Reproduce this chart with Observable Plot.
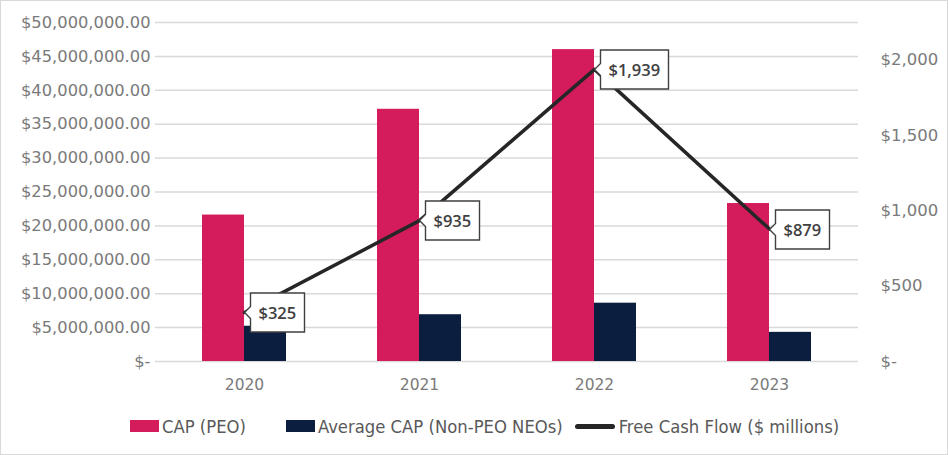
<!DOCTYPE html>
<html><head><meta charset="utf-8">
<script src="https://cdn.jsdelivr.net/npm/d3@7"></script>
<script src="https://cdn.jsdelivr.net/npm/@observablehq/plot@0.6"></script>
<style>
body{margin:0;background:#fff}
#frame{width:948px;height:455px;box-sizing:border-box;border:1px solid #d9d9d9;position:relative;overflow:hidden;background:#fff}
#chart{position:absolute;left:0;top:0}
#legend{position:absolute;top:414px;left:129px;height:22px;display:flex;align-items:center;font-family:"DejaVu Sans Condensed","DejaVu Sans",sans-serif;font-size:18.3px;color:#595959;white-space:nowrap}
.item{display:flex;align-items:center}
.sw{width:29px;height:12px;margin-right:3px}
.ln{width:40px;height:5px;border-radius:2.5px;background:#262626;margin-right:4px}
</style></head>
<body>
<div id="frame"><div id="chart"></div><div id="legend"></div></div>
<script>
const years = ["2020", "2021", "2022", "2023"];
const capPEO = [21.6e6, 37.2e6, 46.0e6, 23.3e6];
const avgCapNonPEO = [5.2e6, 6.9e6, 8.6e6, 4.3e6];
const freeCashFlow = [325, 935, 1939, 879];
const leftTicks = [0, 5e6, 10e6, 15e6, 20e6, 25e6, 30e6, 35e6, 40e6, 45e6, 50e6];
const rightTicks = [0, 500, 1000, 1500, 2000];
const seriesNames = ["CAP (PEO)", "Average CAP (Non-PEO NEOs)", "Free Cash Flow ($ millions)"];
const colors = ["#D41C5C", "#0B1E3F", "#262626"];

const leftMax = 50e6, rightMax = 2250;
const k = leftMax / rightMax;
const rows = years.map((y, i) => ({year: y, cap: capPEO[i], avg: avgCapNonPEO[i], fcf: freeCashFlow[i], fcfScaled: freeCashFlow[i] * k}));

const fmtLeft = d => d === 0 ? "$-" : "$" + d3.format(",.2f")(d);
const fmtRight = v => v === 0 ? "$-" : "$" + d3.format(",")(v);
const axisColor = "#7a7a7a";
const font = "DejaVu Sans, Verdana, sans-serif";

const chart = Plot.plot({
  width: 946, height: 395,
  marginLeft: 154, marginRight: 89, marginTop: 21, marginBottom: 35,
  style: {fontFamily: font, fontSize: "15px", color: "#404040", background: "white"},
  x: {domain: years, paddingInner: 0.522, paddingOuter: 0.261, label: null},
  y: {domain: [0, leftMax], label: null},
  marks: [
    Plot.ruleY(leftTicks, {stroke: "#d9d9d9", strokeWidth: 1.5}),
    Plot.barY(rows, {x: "year", y: "cap", fill: colors[0], insetRight: 42}),
    Plot.barY(rows, {x: "year", y: "avg", fill: colors[1], insetLeft: 42}),
    Plot.line(rows, {x: "year", y: "fcfScaled", stroke: colors[2], strokeWidth: 3.5}),
    Plot.axisX({tickSize: 0, tickPadding: 17, color: axisColor, fontSize: 15.5, label: null}),
    Plot.axisY(leftTicks, {anchor: "left", tickSize: 0, tickPadding: 5, tickFormat: fmtLeft, color: axisColor, fontSize: 16.3, label: null}),
    Plot.axisY(rightTicks.map(v => v * k), {anchor: "right", tickSize: 0, tickPadding: 22, tickFormat: d => fmtRight(Math.round(d / k)), color: axisColor, fontSize: 16.5, label: null, textAnchor: "start"}),
    Plot.tip(rows, {x: "year", y: "fcfScaled", title: d => "$" + d3.format(",")(d.fcf), anchor: "left",
      fill: "white", stroke: "#404040", strokeWidth: 1.4, pathFilter: "none",
      fontFamily: "Open Sans, sans-serif", fontWeight: 600, fontSize: 16.5, textPadding: 8, pointerSize: 12})
  ]
});
document.getElementById("chart").appendChild(chart);

const legend = document.getElementById("legend");
const gaps = [40, 12, 0];
seriesNames.forEach((name, i) => {
  const it = document.createElement("div");
  it.className = "item";
  it.style.marginRight = gaps[i] + "px";
  const sw = document.createElement("div");
  sw.className = i === 2 ? "ln" : "sw";
  if (i < 2) sw.style.background = colors[i];
  const t = document.createElement("span");
  t.textContent = name;
  it.appendChild(sw); it.appendChild(t);
  legend.appendChild(it);
});
</script>
</body></html>
